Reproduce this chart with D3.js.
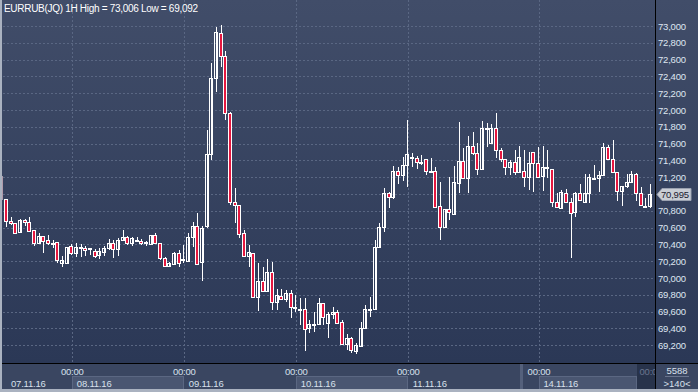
<!DOCTYPE html>
<html>
<head>
<meta charset="utf-8">
<script src="https://cdnjs.cloudflare.com/ajax/libs/d3/7.8.5/d3.min.js"></script>
<style>
  body { margin: 0; background: #2e3a55; }
  svg { display: block; font-family: "Liberation Sans", Arial, sans-serif; }
</style>
</head>
<body>
<div id="chart"></div>
<script>
var titleText = "EURRUB(JQ) 1H High = 73,006 Low = 69,092";

// hourly candles, left to right
var opens = [71214,70941,70679,70655,70548,70691,70667,70572,70417,70500,70453,70417,70429,70179,70179,70381,70298,70365,70357,70357,
  70322,70274,70310,70357,70417,70345,70453,70488,70417,70453,70441,70429,70405,70512,70417,70238,70143,70167,70298,70221,
  70203,70488,70619,70191,70619,71476,72381,72917,72643,71964,70905,70869,70536,70262,70298,69774,69964,69845,70071,69714,
  69786,69750,69822,69661,69631,69631,69405,69452,69452,69702,69464,69571,69595,69476,69214,69286,69131,69190,69405,69625,
  69631,70369,70607,71012,70964,71274,71226,71345,71440,71428,71387,71417,71280,71274,70857,70607,70822,70762,71131,71393,
  71190,71571,71488,71298,71786,71607,71786,71524,71417,71321,71381,71262,71274,71202,71500,71369,71214,71321,71298,70905,
  70833,71012,70905,70786,71012,70905,71012,71190,71190,71226,71559,71417,71262,71036,71095,71143,71238,71012,70857,70857];
var highs = [71238,70945,70726,70660,70703,70703,70726,70575,70536,70505,70512,70453,70432,70262,70369,70405,70417,70405,70381,70360,
  70345,70357,70381,70464,70453,70476,70572,70500,70488,70488,70464,70441,70512,70536,70420,70250,70191,70310,70333,70393,
  70536,70667,70774,70619,71762,72560,72988,73006,72702,71976,71072,70872,70572,70393,70300,70179,70131,70226,70191,69869,
  69869,69857,69857,69798,69762,69762,69500,69595,69762,69705,69595,69655,69619,69500,69333,69298,69226,69476,69679,69774,
  70453,70655,71072,71024,71333,71321,71440,71881,71488,71452,71464,71420,71428,71321,71143,70822,71202,71333,71857,71548,
  71690,71738,71607,71869,71845,71833,71964,71548,71420,71405,71524,71571,71524,71500,71505,71559,71571,71524,71300,71012,
  71048,71060,70952,71024,71119,71238,71238,71345,71274,71607,71583,71643,71265,71095,71238,71274,71250,71083,70952,71119];
var lows = [70917,70607,70631,70524,70548,70619,70560,70381,70405,70298,70393,70357,70179,70131,70167,70274,70250,70250,70262,70274,
  70238,70226,70262,70333,70238,70262,70441,70393,70381,70429,70393,70381,70405,70405,70214,70131,70131,70155,70131,70179,
  70191,70369,70155,69964,70595,71405,72214,72512,71881,70869,70655,70476,70262,70131,69762,69607,69845,69833,69619,69619,
  69738,69714,69524,69595,69440,69131,69345,69357,69440,69440,69286,69512,69452,69202,69143,69107,69092,69178,69393,69536,
  69619,70357,70548,70834,70941,71119,71155,71083,71321,71298,71345,71226,71250,70845,70453,70605,70691,70760,71012,71190,
  71012,71464,71226,71295,71559,71605,71428,71381,71226,71226,71226,71260,71083,71048,71024,71190,71036,71190,70845,70845,
  70830,70905,70238,70726,70929,70900,70893,71178,71024,71224,71417,71262,70917,70857,71072,71140,70917,70869,70833,70833];
var closes = [70941,70679,70655,70536,70691,70667,70560,70417,70500,70441,70417,70423,70214,70214,70369,70298,70369,70372,70333,70351,
  70262,70322,70357,70417,70345,70453,70488,70417,70476,70459,70417,70423,70512,70417,70238,70143,70179,70298,70179,70226,
  70488,70619,70167,70595,71476,72381,72928,72643,71964,70905,70869,70524,70262,70310,69774,69964,69845,70071,69714,69798,
  69750,69822,69655,69655,69625,69393,69452,69446,69702,69536,69571,69595,69464,69214,69286,69143,69202,69405,69631,69631,
  70369,70607,71012,70964,71274,71226,71345,71476,71446,71381,71381,71274,71274,70845,70607,70822,70786,71143,71393,71190,
  71571,71488,71298,71786,71792,71786,71524,71417,71321,71381,71262,71440,71202,71369,71369,71202,71321,71309,70905,70845,
  71024,70905,70774,71012,70929,71012,71202,71196,71226,71559,71417,71262,71036,71095,71143,71238,71012,70869,70857,70995];

var dayLabels = ["07.11.16", "08.11.16", "09.11.16", "10.11.16", "11.11.16", "14.11.16"];
var dayStarts = [-9, 15, 39, 63, 87, 115];   // bar index of 00:00
var priceTicks = [69200, 69400, 69600, 69800, 70000, 70200, 70400, 70600, 70800, 71000,
  71200, 71400, 71600, 71800, 72000, 72200, 72400, 72600, 72800, 73000];
var barCount = "5588";
var visibleBars = ">140<";

var width = 698, height = 392;
var plotRight = 655, plotBottom = 363;
var red = "#e5173f";

var candles = opens.map(function (o, i) {
  return { i: i, o: o, h: highs[i], l: lows[i], c: closes[i] };
});

var x = d3.scaleLinear().domain([0, candles.length - 1]).range([2.3, 651]);
var y = d3.scaleLinear().domain([69200, 73000]).range([345.3, 26]);
var fmt = d3.format(",.0f");

var svg = d3.select("#chart").append("svg")
  .attr("width", width)
  .attr("height", height);

var defs = svg.append("defs");
var grad = defs.append("linearGradient")
  .attr("id", "bg").attr("x1", 0).attr("y1", 0).attr("x2", 0).attr("y2", 1);
grad.append("stop").attr("offset", "0%").attr("stop-color", "#414d69");
grad.append("stop").attr("offset", "100%").attr("stop-color", "#2b3856");
defs.append("clipPath").attr("id", "plotClip")
  .append("rect").attr("x", 2.5).attr("y", 0).attr("width", plotRight - 2.5).attr("height", plotBottom);
defs.append("clipPath").attr("id", "cursorClip")
  .append("rect").attr("x", x(136)).attr("y", 364).attr("width", plotRight - x(136)).attr("height", 25);

svg.append("rect").attr("width", width).attr("height", plotBottom).attr("fill", "url(#bg)");

// grid
var grid = svg.append("g").attr("stroke", "#5a6783").attr("stroke-dasharray", "2,2");
grid.selectAll(".hg").data(priceTicks).enter().append("line")
  .attr("x1", 3).attr("x2", plotRight)
  .attr("y1", function (d) { return Math.round(y(d)) + 0.5; })
  .attr("y2", function (d) { return Math.round(y(d)) + 0.5; });
grid.selectAll(".vg").data(dayStarts.slice(1)).enter().append("line")
  .attr("y1", 0).attr("y2", plotBottom)
  .attr("x1", function (d) { return Math.round(x(d)) + 0.5; })
  .attr("x2", function (d) { return Math.round(x(d)) + 0.5; });

// candles
var plot = svg.append("g").attr("clip-path", "url(#plotClip)");
var bar = plot.selectAll(".candle").data(candles).enter().append("g").attr("class", "candle");
bar.append("line")
  .attr("stroke", "#ffffff")
  .attr("x1", function (d) { return Math.round(x(d.i)) - 0.5; })
  .attr("x2", function (d) { return Math.round(x(d.i)) - 0.5; })
  .attr("y1", function (d) { return Math.round(y(d.h)); })
  .attr("y2", function (d) { return Math.round(y(d.l)); });
bar.append("rect")
  .attr("stroke", "#ffffff")
  .attr("fill", function (d) { return d.c < d.o ? red : "none"; })
  .attr("x", function (d) { return Math.round(x(d.i)) - 2.5; })
  .attr("width", 3)
  .attr("y", function (d) { return Math.round(y(Math.max(d.o, d.c))) + 0.5; })
  .attr("height", function (d) {
    return Math.max(1, Math.round(y(Math.min(d.o, d.c))) - Math.round(y(Math.max(d.o, d.c))));
  });

// title
svg.append("text")
  .attr("x", 4).attr("y", 12)
  .attr("fill", "#ffffff").attr("font-size", "10px").attr("letter-spacing", "-0.3px")
  .text(titleText);

// last price tag covers the nearest price label
var last = closes[closes.length - 1];
var ly = Math.round(y(last)) + 0.5;

// price axis
svg.selectAll(".ylab").data(priceTicks.filter(function (d) { return Math.abs(y(d) - ly) > 10; }))
  .enter().append("text")
  .attr("x", 658)
  .attr("y", function (d) { return y(d) + 3.5; })
  .attr("fill", "#dfe6f1").attr("font-size", "9.5px").attr("letter-spacing", "-0.2px")
  .text(function (d) { return fmt(d); });

svg.append("path")
  .attr("d", "M657," + ly + "L662," + (ly - 6) + "H691V" + (ly + 6) + "H662Z")
  .attr("fill", "#c9cdd5").attr("stroke", "#9aa1b0");
svg.append("text")
  .attr("x", 661).attr("y", ly + 3.5)
  .attr("fill", "#1b2030").attr("font-size", "9.5px").attr("letter-spacing", "-0.2px")
  .text(fmt(last));

// time axis band
svg.append("rect").attr("x", 0).attr("y", plotBottom).attr("width", width).attr("height", 26).attr("fill", "#3a4661");
svg.selectAll(".daybox").data(dayStarts).enter()
  .filter(function (d, i) { return i % 2 === 1; })
  .append("rect")
  .attr("x", function (d) { return Math.round(x(d)) + 0.5; })
  .attr("y", 376.5)
  .attr("width", function (d) {
    var k = dayStarts.indexOf(d);
    var end = k + 1 < dayStarts.length ? x(dayStarts[k + 1]) : x(136);
    return Math.round(end) - Math.round(x(d)) - 1;
  })
  .attr("height", 13)
  .attr("fill", "#4a5671").attr("stroke", "#5b6782");
svg.append("rect").attr("x", Math.round(x(111))).attr("y", 364).attr("width", 3).attr("height", 25).attr("fill", "#55617c");

svg.selectAll(".tlab").data(dayStarts.slice(1)).enter().append("text")
  .attr("x", function (d) { return x(d); })
  .attr("y", 375)
  .attr("text-anchor", "middle")
  .attr("fill", "#d8e0ec").attr("font-size", "9.5px").attr("letter-spacing", "-0.2px")
  .text("00:00");
svg.selectAll(".dlab").data(dayLabels).enter().append("text")
  .attr("x", function (d, i) { return Math.max(x(dayStarts[i]) + 4.5, 11); })
  .attr("y", 386.5)
  .attr("fill", "#d8e0ec").attr("font-size", "9.5px").attr("letter-spacing", "-0.2px")
  .text(function (d) { return d; });

// cursor box at the right end of time axis
svg.append("rect").attr("x", x(136)).attr("y", 364).attr("width", plotRight - x(136)).attr("height", 25).attr("fill", "#28334b");
svg.append("text")
  .attr("clip-path", "url(#cursorClip)")
  .attr("x", x(136) + 2.5).attr("y", 375)
  .attr("fill", "#6a758e").attr("font-size", "9.5px").attr("letter-spacing", "-0.2px")
  .text("00:00");

// bar count corner
svg.append("text").attr("x", 677).attr("y", 373.5).attr("text-anchor", "middle")
  .attr("fill", "#d8e0ec").attr("font-size", "9.5px").text(barCount);
svg.append("line").attr("x1", 665).attr("x2", 689).attr("y1", 376.5).attr("y2", 376.5).attr("stroke", "#6a758e");
svg.append("text").attr("x", 677).attr("y", 386.5).attr("text-anchor", "middle")
  .attr("fill", "#d8e0ec").attr("font-size", "9.5px").text(visibleBars);

// frame lines
svg.append("line").attr("x1", 0).attr("x2", width).attr("y1", plotBottom + 0.5).attr("y2", plotBottom + 0.5).attr("stroke", "#000");
svg.append("line").attr("x1", plotRight + 0.5).attr("x2", plotRight + 0.5).attr("y1", 0).attr("y2", height).attr("stroke", "#000");
svg.append("rect").attr("x", 0).attr("y", 0).attr("width", 2).attr("height", height).attr("fill", "#aab2c0");
svg.append("rect").attr("x", 0).attr("y", 389).attr("width", width).attr("height", 3).attr("fill", "#aab2c0");
</script>
</body>
</html>
